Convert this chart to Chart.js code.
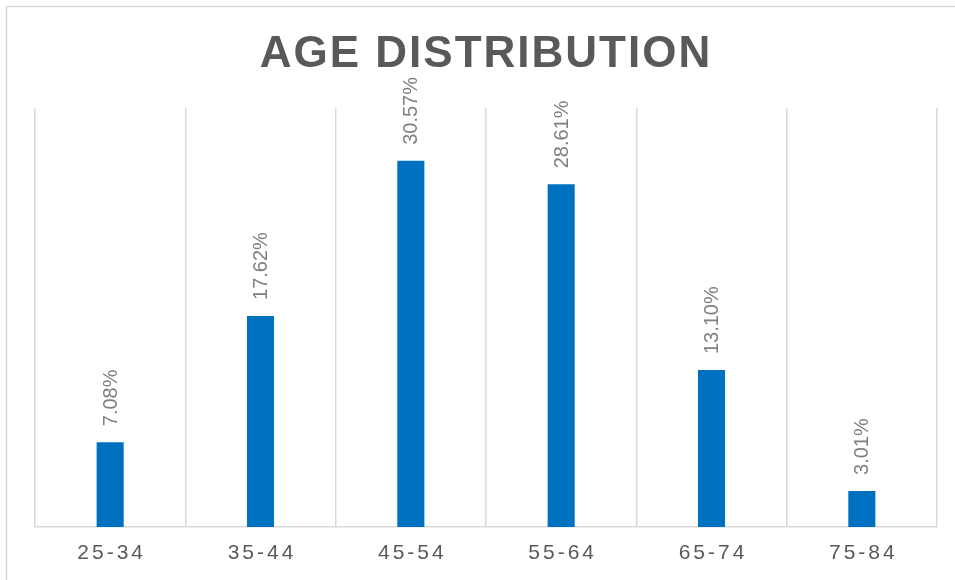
<!DOCTYPE html>
<html>
<head>
<meta charset="utf-8">
<script src="https://cdn.jsdelivr.net/npm/chart.js"></script>
<style>
  html, body { margin: 0; padding: 0; background: #fff; }
  #wrap { width: 955px; height: 580px; }
</style>
</head>
<body>
<div id="wrap"><canvas id="ageChart"></canvas></div>
<script>
// data
const ageGroups = ['25-34', '35-44', '45-54', '55-64', '65-74', '75-84'];
const sharePct = [7.08, 17.62, 30.57, 28.61, 13.10, 3.01];
const yMax = 35;

var ctx = document.querySelector('#ageChart');

// outer frame + letter spacing for the title
const framePlugin = {
    id: 'frame',
    beforeDraw(chart) {
        const c = chart.ctx;
        c.save();
        c.strokeStyle = '#d9d9d9';
        c.lineWidth = 1.5;
        c.strokeRect(6.5, 6.5, 980, 620);
        c.restore();
        c.letterSpacing = '2px';
    },
    beforeDatasetsDraw(chart) {
        chart.ctx.letterSpacing = '0px';
    }
};

// rotated value labels above the bars
const valueLabels = {
    id: 'valueLabels',
    afterDatasetsDraw(chart) {
        const c = chart.ctx;
        const meta = chart.getDatasetMeta(0);
        c.save();
        c.font = '20px "Liberation Sans", Arial, sans-serif';
        c.fillStyle = '#7f7f7f';
        c.textAlign = 'left';
        c.textBaseline = 'middle';
        meta.data.forEach((bar, i) => {
            c.save();
            c.translate(bar.x, bar.y - 16);
            c.rotate(-Math.PI / 2);
            c.fillText(sharePct[i].toFixed(2) + '%', 0, 1);
            c.restore();
        });
        c.restore();
    }
};

// category labels with wide letter spacing
const spacedTicks = {
    id: 'spacedTicks',
    afterDraw(chart) {
        const c = chart.ctx;
        const x = chart.scales.x;
        const yPos = chart.chartArea.bottom + 26;
        c.save();
        c.font = '21px "Liberation Sans", Arial, sans-serif';
        c.letterSpacing = '3px';
        c.fillStyle = '#595959';
        c.textAlign = 'left';
        c.textBaseline = 'middle';
        ageGroups.forEach((lbl, i) => {
            const w = c.measureText(lbl).width - 3;
            c.fillText(lbl, x.getPixelForValue(i) - w / 2, yPos);
        });
        c.restore();
    }
};

var data = {
    labels: ageGroups,
    datasets: [{
        label: 'Age distribution',
        data: sharePct,
        backgroundColor: '#0070c0',
        borderWidth: 0,
        barPercentage: 0.18,
        categoryPercentage: 1
    }]
};

const config = {
    type: 'bar',
    data: data,
    options: {
        responsive: true,
        maintainAspectRatio: false,
        animation: false,
        layout: { padding: { left: 35, right: 18, top: 0, bottom: 0 } },
        plugins: {
            legend: { display: false },
            tooltip: { enabled: false },
            title: {
                display: true,
                text: 'AGE DISTRIBUTION',
                color: '#595959',
                font: { family: '"Liberation Sans", Arial, sans-serif', size: 44, weight: 'bold', lineHeight: 1.2 },
                padding: { top: 28, bottom: 27 }
            }
        },
        scales: {
            x: {
                offset: true,
                grid: { display: true, offset: true, color: '#d9d9d9', lineWidth: 1.5, drawTicks: false },
                border: { display: true, color: '#d9d9d9', width: 1.5 },
                ticks: { display: false },
                afterFit: function (s) { s.height = 53; }
            },
            y: {
                display: false,
                min: 0,
                max: yMax,
                beginAtZero: true
            }
        }
    },
    plugins: [framePlugin, valueLabels, spacedTicks]
};

var ageChart = new Chart(ctx, config);
</script>
</body>
</html>
